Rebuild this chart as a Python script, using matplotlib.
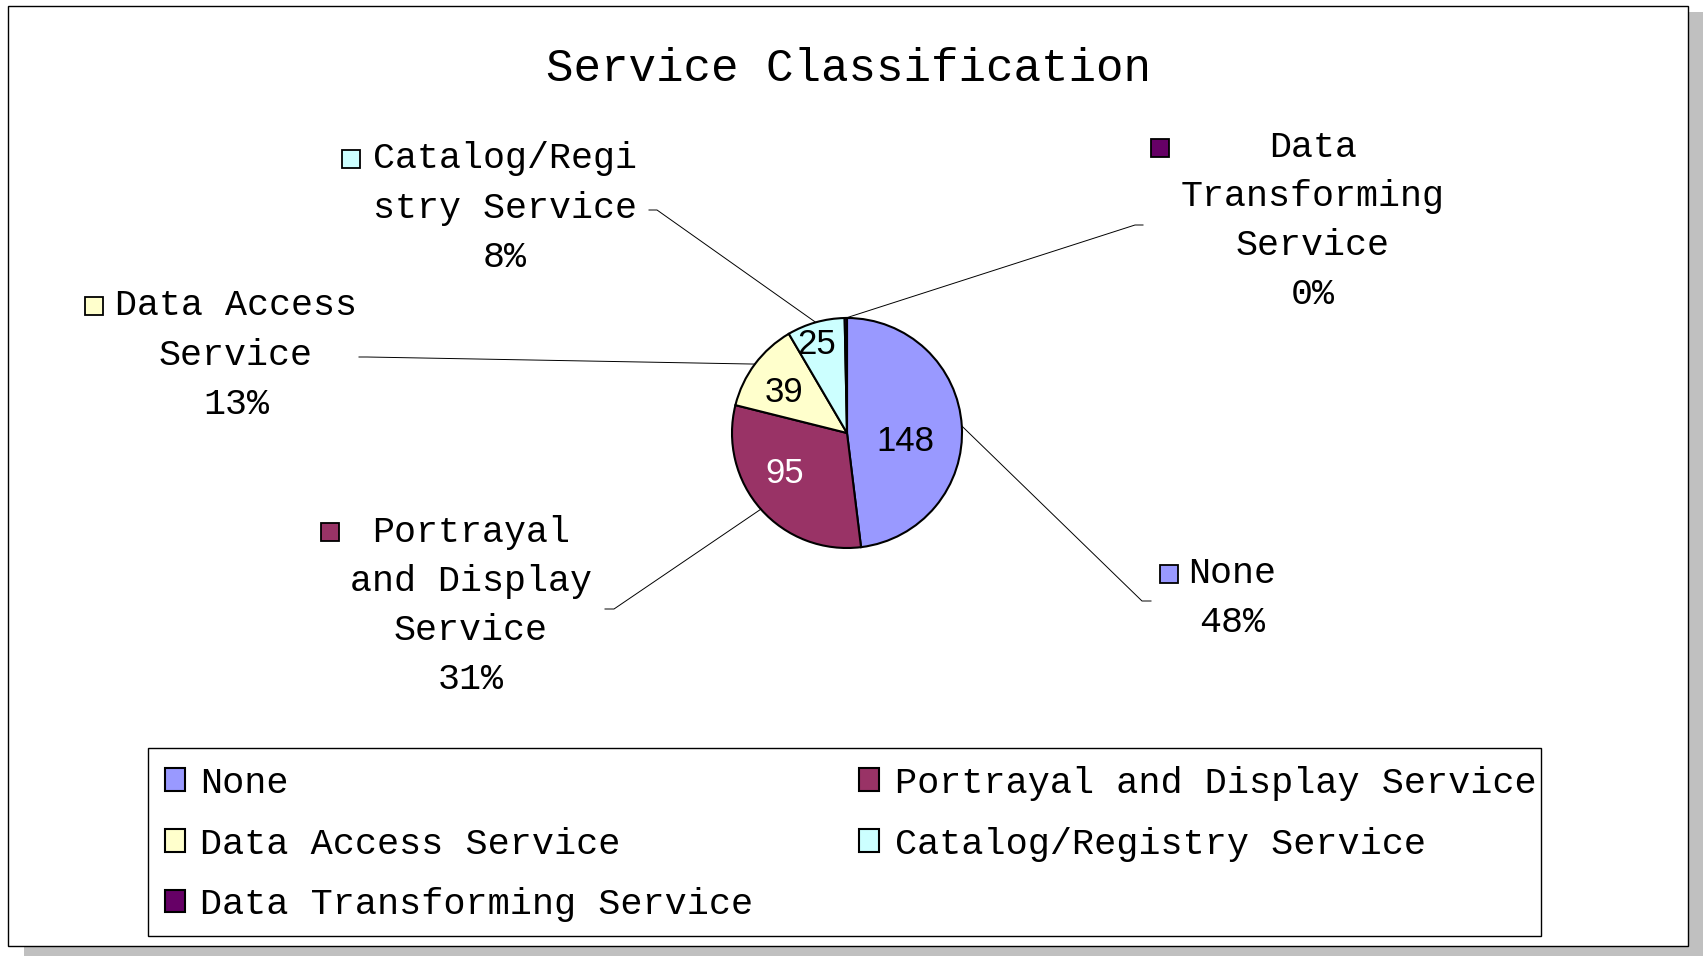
import numpy as np
import matplotlib.pyplot as plt
from matplotlib.patches import Rectangle

W, H = 1703, 956

categories = ['None', 'Portrayal and Display Service', 'Data Access Service',
              'Catalog/Registry Service', 'Data Transforming Service']
counts = [148, 95, 39, 25, 1]
colors = ['#9999FF', '#993366', '#FFFFCC', '#CCFFFF', '#660066']
pie_labels = ['None', 'Portrayal\nand Display\nService', 'Data Access\nService',
              'Catalog/Regi\nstry Service', 'Data\nTransforming\nService']
num_colors = ['black', 'white', 'black', 'black', None]

# layout (pixels from top-left)
cx, cy, R = 847, 433, 115
label_xy = [(1232, 598), (471, 606), (236, 355), (505, 208), (1313, 221)]
marker_xy = [(1169, 574), (330, 532), (94, 306), (351, 159), (1160, 148)]
elbow_xy = [(1142, 601), (614, 609), (367, 357), (657, 210), (1135, 225)]
stub_dx = [9, -9, -8, -8, 8]
num_r = [0.51, 0.65, 0.65, 0.81, None]
num_da = [-11.5, -8.5, 4, 3, 0]

mono = 'Liberation Mono'

fig = plt.figure(figsize=(W / 100, H / 100), dpi=100)
ax = fig.add_axes([0, 0, 1, 1])

wedges, _ = ax.pie(counts, colors=colors, startangle=90, counterclock=False,
                   center=(cx, H - cy), radius=R,
                   wedgeprops=dict(edgecolor='black', linewidth=1.5))
ax.set_xlim(0, W)
ax.set_ylim(0, H)
ax.axis('off')

# frame with shadow
ax.add_patch(Rectangle((24, 0), W - 24, H - 12, facecolor='#C0C0C0', edgecolor='none', zorder=-3))
ax.add_patch(Rectangle((8, 10), 1680, 940, facecolor='white', edgecolor='black', linewidth=1, zorder=-2))

ax.text(848, H - 69, 'Service Classification', family=mono, fontsize=33,
        ha='center', va='center')

total = sum(counts)
for i, w in enumerate(wedges):
    mid = np.deg2rad((w.theta1 + w.theta2) / 2)
    pct = round(100 * counts[i] / total)
    lx, ly = label_xy[i]
    ax.text(lx, H - ly, f'{pie_labels[i]}\n{pct}%', family=mono, fontsize=26.4,
            ha='center', va='center', multialignment='center', linespacing=1.53)
    mx, my = marker_xy[i]
    ax.plot(mx, H - my, marker='s', markersize=13.5, markerfacecolor=colors[i],
            markeredgecolor='black', markeredgewidth=1.3)
    ex, ey = elbow_xy[i]
    px, py = cx + R * np.cos(mid), (H - cy) + R * np.sin(mid)
    ax.plot([px, ex, ex + stub_dx[i]], [py, H - ey, H - ey], color='black', linewidth=0.7)
    if num_r[i] is not None:
        a = mid + np.deg2rad(num_da[i])
        ax.text(cx + num_r[i] * R * np.cos(a), (H - cy) + num_r[i] * R * np.sin(a),
                str(counts[i]), family='Liberation Sans', fontsize=25,
                color=num_colors[i], ha='center', va='center')

# legend box
ax.add_patch(Rectangle((148, H - 936), 1393, 188, facecolor='white',
                       edgecolor='black', linewidth=1, zorder=-1))
order = [0, 2, 4, 1, 3]
leg = ax.legend([wedges[i] for i in order], [categories[i] for i in order],
                ncol=2, mode='expand', loc='lower left',
                bbox_to_anchor=(148 / W, 17 / H, 1405 / W, 188 / H),
                bbox_transform=fig.transFigure,
                prop={'family': mono, 'size': 26.6}, frameon=False,
                handlelength=0.55, handleheight=0.55,
                handletextpad=0.42, labelspacing=0.7, borderpad=0.45,
                borderaxespad=0)

fig.savefig('out.png', dpi=100)
